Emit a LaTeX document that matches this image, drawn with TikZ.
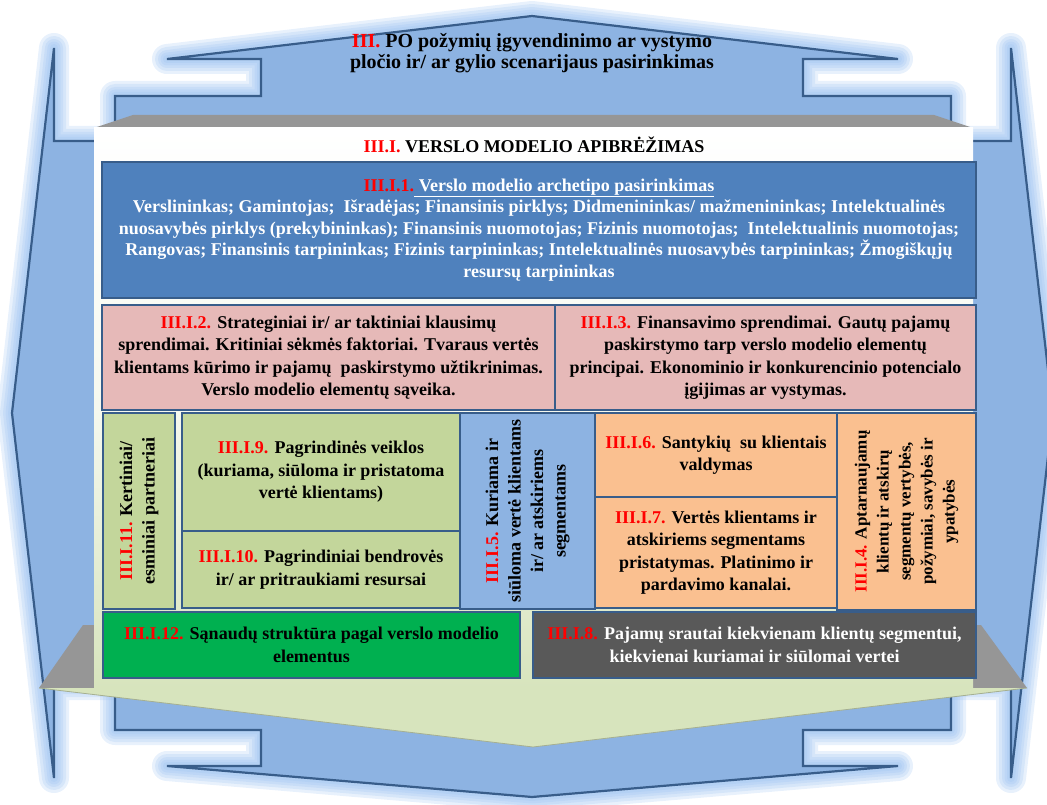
\documentclass[tikz,border=0pt]{standalone}
\usepackage{fontspec}
\setmainfont{Liberation Serif}
\definecolor{arrowblue}{RGB}{141,179,226}
\definecolor{edgeblue}{RGB}{56,93,138}
\definecolor{glowblue}{RGB}{150,190,240}
\definecolor{archblue}{RGB}{79,129,189}
\definecolor{pinkbox}{RGB}{230,185,184}
\definecolor{olivebox}{RGB}{195,214,155}
\definecolor{orangebox}{RGB}{250,192,144}
\definecolor{greenbox}{RGB}{0,176,80}
\definecolor{darkbox}{RGB}{89,89,89}
\definecolor{lidgray}{RGB}{150,150,150}
\definecolor{panelgreen}{RGB}{215,228,189}
\definecolor{labelred}{RGB}{255,0,0}
\definecolor{paneledge}{RGB}{165,175,145}

% background arrows: vertical up/down arrow and horizontal left/right arrow
\newcommand\updownpath{(532,16) -- (898,59) -- (803,59) -- (803,96) -- (951,96) -- (951,730) -- (803,730) -- (803,766) -- (898,766) -- (532,797) -- (167,766) -- (261,766) -- (261,730) -- (115,730) -- (115,96) -- (261,96) -- (261,59) -- (167,59) -- cycle}
\newcommand\leftrightpath{(12,413) -- (54,48) -- (54,141) -- (1011,141) -- (1011,48) -- (1053,413) -- (1011,778) -- (1011,685) -- (54,685) -- (54,778) -- cycle}

\tikzset{
  halo/.style={draw=glowblue, line width=#1, line join=round, opacity=0.22},
  arrowshape/.style={fill=arrowblue, draw=edgeblue, line width=2.2, line join=miter},
  txt/.style={font=\bfseries\fontsize{18}{22.5}\selectfont, align=center, inner sep=0},
  box/.style={draw=edgeblue, line width=2.5, inner sep=2, align=center,
    font=\bfseries\fontsize{18}{22.5}\selectfont},
}

\begin{document}
\begin{tikzpicture}[x=1pt,y=-1pt]
\useasboundingbox (0,0) rectangle (1047,805);

% soft halo around the arrows, built from fading strokes
\foreach \w in {30,24,18,13,8} {
  \path[halo=\w] \leftrightpath;
  \path[halo=\w] \updownpath;
}

% arrows
\path[arrowshape] \leftrightpath;
\path[arrowshape] \updownpath;

% panel: lid, floor, body and pointed base
\fill[lidgray] (133,115) -- (934,115) -- (973,128) -- (94,128) -- cycle;
\fill[lidgray] (83,625) -- (981,625) -- (1027,688) -- (39,688) -- cycle;
\shade[top color=white, bottom color=panelgreen, middle color=panelgreen!25] (94,128) rectangle (973,688);
\fill[panelgreen] (39,688) -- (533,747) -- (1027,688) -- cycle;
\draw[paneledge, line width=0.8] (39,688) -- (533,747) -- (1027,688);

% headings
\node[txt, font=\bfseries\fontsize{20}{21}\selectfont] (scenario) at (532,53)
  {\textcolor{labelred}{III.} PO požymių įgyvendinimo ar vystymo\\pločio ir/ ar gylio scenarijaus pasirinkimas};
\node[txt] (heading) at (534,145)
  {\textcolor{labelred}{III.I.} VERSLO MODELIO APIBRĖŽIMAS};

% archetype box
\node[box, fill=archblue, text=white, minimum width=874, minimum height=136,
  font=\bfseries\fontsize{18}{21.5}\selectfont] (archetype) at (539,230)
  {\textcolor{labelred}{III.I.1.}\underline{~Verslo modelio archetipo pasirinkimas}\\
   Verslininkas; Gamintojas;\ \ Išradėjas; Finansinis pirklys; Didmenininkas/ mažmenininkas; Intelektualinės\\
   nuosavybės pirklys (prekybininkas); Finansinis nuomotojas; Fizinis nuomotojas;\ \ Intelektualinis nuomotojas;\\
   Rangovas; Finansinis tarpininkas; Fizinis tarpininkas; Intelektualinės nuosavybės tarpininkas; Žmogiškųjų\\
   resursų tarpininkas};

% strategy and finance
\node[box, fill=pinkbox, minimum width=453, minimum height=105] (strategy) at (328.5,357.5)
  {\textcolor{labelred}{III.I.2.} Strateginiai ir/ ar taktiniai klausimų\\
   sprendimai. Kritiniai sėkmės faktoriai. Tvaraus vertės\\
   klientams kūrimo ir pajamų\ \ paskirstymo užtikrinimas.\\
   Verslo modelio elementų sąveika.};
\node[box, fill=pinkbox, minimum width=421, minimum height=105] (finance) at (765.5,357.5)
  {\textcolor{labelred}{III.I.3.} Finansavimo sprendimai. Gautų pajamų\\
   paskirstymo tarp verslo modelio elementų\\
   principai. Ekonominio ir konkurencinio potencialo\\
   įgijimas ar vystymas.};

% middle row
\node[box, fill=olivebox, rotate=90, minimum width=196, minimum height=72] (partners) at (139,511)
  {\textcolor{labelred}{III.I.11.} Kertiniai/\\ esminiai partneriai};
\node[box, fill=olivebox, minimum width=278, minimum height=118] (activities) at (321,472)
  {\textcolor{labelred}{III.I.9.} Pagrindinės veiklos\\ (kuriama, siūloma ir pristatoma\\ vertė klientams)};
\node[box, fill=olivebox, minimum width=278, minimum height=77] (resources) at (321,569.5)
  {\textcolor{labelred}{III.I.10.} Pagrindiniai bendrovės\\ ir/ ar pritraukiami resursai};
\node[box, fill=arrowblue, rotate=90, minimum width=196, minimum height=135] (value) at (527.5,511)
  {\textcolor{labelred}{III.I.5.} Kuriama ir\\ siūloma vertė klientams\\ ir/ ar atskiriems\\ segmentams};
\node[box, fill=orangebox, minimum width=242, minimum height=84] (relations) at (716,455)
  {\textcolor{labelred}{III.I.6.} Santykių\ \ su klientais\\ valdymas};
\node[box, fill=orangebox, minimum width=242, minimum height=111] (channels) at (716,552.5)
  {\textcolor{labelred}{III.I.7.} Vertės klientams ir\\ atskiriems segmentams\\ pristatymas. Platinimo ir\\ pardavimo kanalai.};
\node[box, fill=orangebox, rotate=90, minimum width=197, minimum height=139,
  font=\bfseries\fontsize{17}{22}\selectfont] (segments) at (906.5,511.5)
  {\textcolor{labelred}{III.I.4.} Aptarnaujamų\\ klientų ir atskirų\\ segmentų vertybės,\\ požymiai, savybės ir\\ ypatybės};

% bottom row
\node[box, fill=greenbox, minimum width=417, minimum height=66] (costs) at (311.5,645)
  {\textcolor{labelred}{III.I.12.} Sąnaudų struktūra pagal verslo modelio\\ elementus};
\node[box, fill=darkbox, text=white, minimum width=443, minimum height=66] (revenue) at (754.5,645)
  {\textcolor{labelred}{III.I.8.} Pajamų srautai kiekvienam klientų segmentui,\\ kiekvienai kuriamai ir siūlomai vertei};
\end{tikzpicture}
\end{document}
